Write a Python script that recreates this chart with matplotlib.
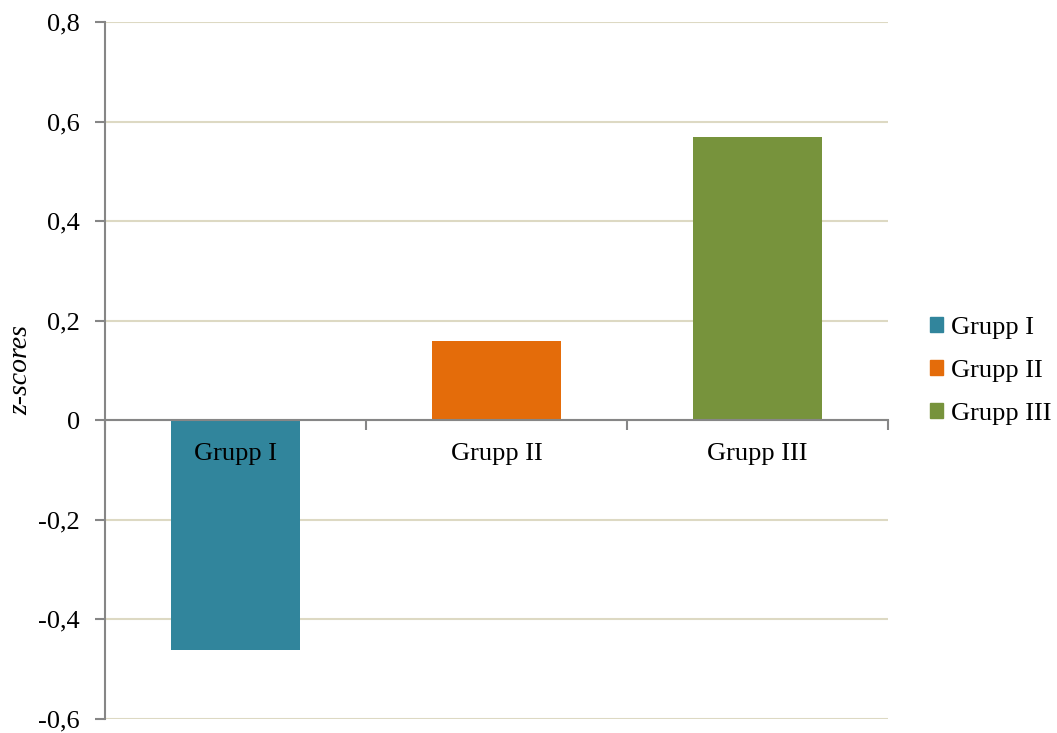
import numpy as np
import matplotlib.pyplot as plt
from matplotlib.patches import Patch

groups = ['Grupp I', 'Grupp II', 'Grupp III']
z_scores = [-0.462, 0.16, 0.57]
colors = ['#31859C', '#E46C0A', '#77933C']

y_ticks = [-0.6, -0.4, -0.2, 0, 0.2, 0.4, 0.6, 0.8]
y_tick_labels = ['-0,6', '-0,4', '-0,2', '0', '0,2', '0,4', '0,6', '0,8']

plt.rcParams['font.family'] = ['Liberation Serif', 'DejaVu Serif']
fs = 19

fig = plt.figure(figsize=(10.57, 7.33), dpi=100)
ax = fig.add_axes([105 / 1057, 1 - 719 / 733, (888 - 105) / 1057, (719 - 22) / 733])

x = np.arange(len(groups))
ax.bar(x, z_scores, width=0.495, color=colors, zorder=3)

ax.set_xlim(-0.5, len(groups) - 0.5)
ax.set_ylim(-0.6, 0.8)
ax.set_yticks(y_ticks)
ax.set_yticklabels(y_tick_labels, fontsize=fs)
ax.yaxis.grid(True, color='#DDD9C3', linewidth=1.5, zorder=0)
ax.tick_params(axis='y', length=7, width=1.5, color='#868686', pad=11)

ax.spines['bottom'].set_position(('data', 0))
ax.spines['bottom'].set_color('#868686')
ax.spines['bottom'].set_linewidth(1.5)
ax.spines['bottom'].set_zorder(4)
ax.spines['left'].set_color('#868686')
ax.spines['left'].set_linewidth(1.5)
ax.spines['top'].set_visible(False)
ax.spines['right'].set_visible(False)

ax.set_xticks(x)
ax.set_xticklabels([])
ax.set_xticks(np.arange(-0.5, len(groups)), minor=True)
ax.tick_params(axis='x', which='major', length=0)
ax.tick_params(axis='x', which='minor', length=7, width=1.5, color='#868686')

# category labels sit just under the zero line, on top of the bars
for xi, g in zip(x, groups):
    ax.annotate(g, (xi, 0), xytext=(0, -24), textcoords='offset points',
                ha='center', va='center', fontsize=fs, zorder=5)

ax.set_ylabel('z-scores', fontsize=20, style='italic')
ax.yaxis.set_label_coords(-0.092, 0.5)

handles = [Patch(color=c, label=g) for g, c in zip(groups, colors)]
fig.legend(handles=handles, loc='center left', bbox_to_anchor=(930 / 1057, 1 - 371 / 733),
           frameon=False, fontsize=fs, handlelength=0.5, handleheight=0.5,
           handletextpad=0.28, labelspacing=0.8, borderpad=0, borderaxespad=0)

fig.savefig('out.png', dpi=100)
